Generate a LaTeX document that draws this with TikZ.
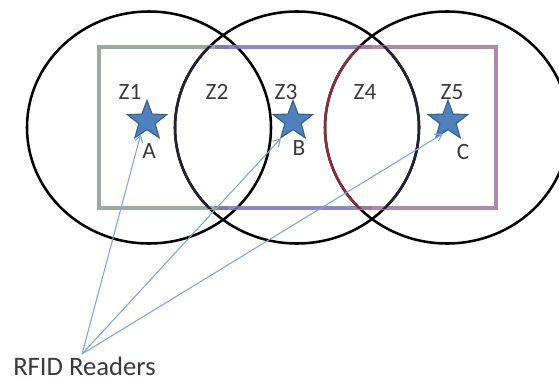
\documentclass[tikz,border=0pt]{standalone}
\usepackage{fontspec}
\setmainfont{Carlito}
\usepackage{tikz}
\usetikzlibrary{calc, positioning, shapes.geometric, arrows.meta}
\definecolor{zonegreen}{RGB}{138,156,146}
\definecolor{zoneblue}{RGB}{118,118,176}
\definecolor{zonemauve}{RGB}{162,118,148}
\definecolor{starblue}{RGB}{79,129,189}
\definecolor{starrim}{RGB}{56,93,138}
\definecolor{readline}{RGB}{128,166,214}
\definecolor{labelgray}{RGB}{60,56,60}
\tikzset{ reader/.style = {star, star points=5, star point ratio=2.4, minimum size=31, inner sep=0pt, fill=starblue, draw=starrim, thick},
  zone/.style = {font=\fontsize{17.5}{19}\selectfont, text=labelgray},
  coverage/.style = {draw, line width=1.9pt, x radius=122, y radius=116},
  wall/.style = {line width=3.4pt, opacity=0.85},
  sight/.style = {readline, line width=0.8pt, -{Straight Barb[length=5pt, width=6pt]}} }

\begin{document}
\begin{tikzpicture}[x=0.75pt, y=-0.75pt]
  \clip (0,0) rectangle (559,381);

  % reader coverage
  \draw[coverage] (149,127.5) ellipse[] (297,127.5) ellipse[] (447,127.5) ellipse[];

  % room outline, one colour per zone group
  \draw[wall, zonegreen] (228,47) -- (99,47) -- (99,208) -- (228,208);
  \draw[wall, zoneblue] (215,47) -- (372,47) (215,208) -- (372,208);
  \draw[wall, zonemauve] (358,47) -- (496,47) -- (496,208) -- (358,208);
  \begin{scope}
    \clip (99,47) rectangle (496,208);
    \draw[coverage, draw=black!70!zoneblue] (297,127.5) ellipse[];
    \draw[coverage, draw=black!55!red!60!zonemauve] (447,127.5) ellipse[];
  \end{scope}

  \path (130,92) node[zone] (z1) {Z1}
    (217,92) node[zone] (z2) {Z2}
    (286,92) node[zone] (z3) {Z3}
    (365,92) node[zone] (z4) {Z4}
    (452,92) node[zone] (z5) {Z5};

  \path (147,121) node[reader] (sa) {}
    (293,121) node[reader] (sb) {}
    (448,121) node[reader] (sc) {};
  \path (149,151) node[zone] (la) {A}
    (299,148) node[zone] (lb) {B}
    (463,152) node[zone] (lc) {C};

  \node[font=\fontsize{20}{22}\selectfont, text=labelgray, anchor=base west, inner sep=0pt] (rfid) at (13,375) {RFID Readers};
  \coordinate (rd) at (82,354);
  \draw (rd) edge[sight] (sa.-115) (rd) edge[sight] (sb.-125) (rd) edge[sight] (sc.-112);
\end{tikzpicture}
\end{document}
